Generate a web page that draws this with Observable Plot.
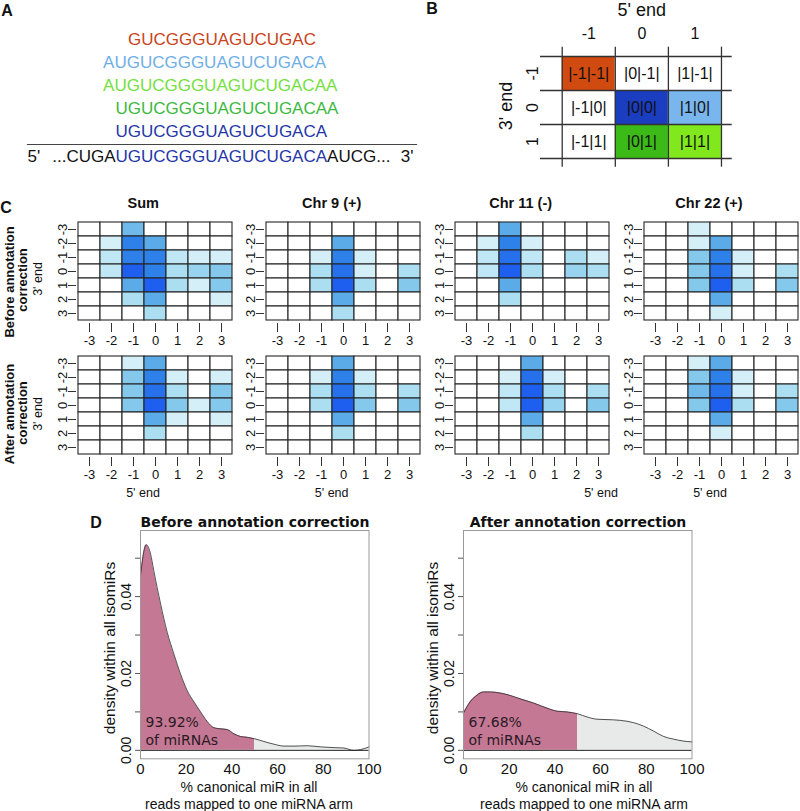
<!DOCTYPE html>
<html><head><meta charset="utf-8">
<script src="https://cdn.jsdelivr.net/npm/d3@7"></script>
<script src="https://cdn.jsdelivr.net/npm/@observablehq/plot@0.6"></script>
<style>
body{margin:0;background:#fff;}
#root{position:relative;width:800px;height:811px;overflow:hidden;font-family:"Liberation Sans",Arial,sans-serif;color:#111;background:#fff;}
.lab{position:absolute;transform:translate(-50%,-50%);white-space:pre;text-align:center;}
.rot{position:absolute;transform:translate(-50%,-50%) rotate(-90deg);white-space:pre;text-align:center;}
</style></head><body><div id="root"></div>
<script>
// ---------- DATA ----------
// Panel A: isomiR sequences and their start offset relative to the canonical miRNA
const isoSeqs = ["GUCGGGUAGUCUGAC","AUGUCGGGUAGUCUGACA","AUGUCGGGUAGUCUGACAA","UGUCGGGUAGUCUGACAA","UGUCGGGUAGUCUGACA"];
const isoStart = [1,-1,-1,0,0];
const refLeft = "...CUGA";
const refCore = "UGUCGGGUAGUCUGACA";
const refRight = "AUCG...";
// Panel B: 5'/3' shift grid
const bShifts = [-1,0,1];
const bIsoCells = [[-1,-1,0],[1,0,1],[1,1,2],[0,1,3],[0,0,4]]; // [5' shift, 3' shift, isomiR index]
// Panel C: heatmap intensity levels (rows: 3' end -3..3, cols: 5' end -3..3)
const cLevels = ["-3","-2","-1","0","1","2","3"];
const cTitles = ["Sum","Chr 9 (+)","Chr 11 (-)","Chr 22 (+)"];
const sumBefore = [[0,0,3.5,0,0,0,0],[0,1,5,4,0,0,0],[0,1.5,5,5,1.5,1,1],[0,1.5,6,5,2,2.5,3],[0,0,4,6,2,1,3],[0,0,2,4,0,0,1],[0,0,0,2,0,0,0]];
const chr9Before = [[0,0,0,0,0,0,0],[0,0,0,4,0,0,0],[0,0,1,5,1,0,0],[0,0,2,5.5,1,0,2],[0,0,2,6,2,0,3],[0,0,0,4,0,0,0],[0,0,0,2,0,0,0]];
const chr11Before = [[0,0,4,0,0,0,0],[0,1,5,1,0,0,0],[0,1.5,5.5,1.5,0,2,1],[0,1.5,6,2,0,2.5,2],[0,0,4,0,0,0,0],[0,0,2,0,0,0,0],[0,0,0,0,0,0,0]];
const chr22Before = [[0,0,1,0,0,0,0],[0,0,1,4,0,0,0],[0,0,3,5,1,0,0],[0,0,3,5.5,1,0,2],[0,0,3,6,2,0,3],[0,0,0,4,0,0,0],[0,0,0,1,0,0,0]];
const sumAfter = [[0,0,1,4,0,0,0],[0,0,3,5,1,0,1],[0,0,3,5.5,2,0,3],[0,0,3,6,3,1,3],[0,0,0,4,1,0,1],[0,0,0,2,0,0,0],[0,0,0,0,0,0,0]];
const chr9After = [[0,0,0,4,0,0,0],[0,0,1,5,1,0,0],[0,0,2,5.5,2,0,2],[0,0,2,6,3,0,3],[0,0,0,4,0,0,0],[0,0,0,2,0,0,0],[0,0,0,0,0,0,0]];
const chr11After = [[0,0,0,4,0,0,0],[0,0,1,5.5,1,0,0],[0,0,1.5,6,2,0,2],[0,0,1.5,6,2.5,0,3],[0,0,0,4,0,0,0],[0,0,0,2,0,0,0],[0,0,0,0,0,0,0]];
const chr22After = [[0,0,1,4,0,0,0],[0,0,3,5,1,0,0],[0,0,3.5,5.5,1,0,2],[0,0,3,6,2,0,3],[0,0,0,4,0,0,0],[0,0,0,1,0,0,0],[0,0,0,0,0,0,0]];
// Panel D: density curves
const beforeX = [0,2.5,4.4,5.8,8.8,11.7,14.6,17.5,20.4,23.4,26.3,29.2,32.1,35,38,40.9,43.8,46.7,50,54,58.4,62.8,67.2,73,78.8,84.7,89,93.4,96.4,100];
const beforeY = [0.0455,0.0535,0.0511,0.0468,0.0381,0.0307,0.0251,0.0199,0.0156,0.0126,0.0100,0.0075,0.0059,0.0056,0.0054,0.0043,0.0036,0.0034,0.0030,0.0023,0.0016,0.0011,0.0011,0.0012,0.0009,0.0007,0.0006,0.0000,0.0002,0.0009];
const afterX = [0,2.9,5.8,8.8,11.7,16.1,20.4,24.8,30.7,36.5,40.9,45.3,50,54,58.4,62.8,68.6,74.5,78.8,83.2,87.6,92,96.4,100];
const afterY = [0.0097,0.0126,0.0143,0.0152,0.0152,0.0149,0.0143,0.0134,0.0123,0.0110,0.0102,0.0100,0.0095,0.0087,0.0081,0.0080,0.0078,0.0072,0.0063,0.0050,0.0036,0.0029,0.0024,0.0022];
const dCut = 50;
const dAnnot = ["93.92%\nof miRNAs","67.68%\nof miRNAs"];
const dXTicks = [0,20,40,60,80,100];
const dYTicks = [0,0.01,0.02,0.03,0.04,0.05];
const dYLabeled = [0,0.02,0.04];

// ---------- STYLES ----------
const isoTextColors = ["#c9431c","#6eaee6","#74e03e","#3cb83e","#2436a8"];
const isoFillColors = ["#d14a10","#1b3dc0","#7ab6ee","#3cba18","#80e81c"];
const bFillByIso = [isoFillColors[0], isoFillColors[2], isoFillColors[4], isoFillColors[3], isoFillColors[1]];
const heatPalette = ["#ffffff","#d4eff8","#acdef2","#84c8ec","#5aabe8","#2e81e8","#1e5ff0"];
const SANS = "Liberation Sans, Arial, sans-serif";
const DEJA = "DejaVu Sans, Verdana, sans-serif";
const baseStyle = {background:"transparent", overflow:"visible", fontFamily:SANS, color:"#111"};

const root = document.getElementById("root");
function place(el, left, top){ el.style.position="absolute"; el.style.left=left+"px"; el.style.top=top+"px"; root.appendChild(el); }
function label(text, x, y, font, opts={}){
  const d=document.createElement("div"); d.className=opts.rot?"rot":"lab";
  d.style.left=x+"px"; d.style.top=y+"px"; d.style.font=font; if(opts.color) d.style.color=opts.color;
  if(opts.lh) d.style.lineHeight=opts.lh; d.textContent=text; root.appendChild(d);
}

// ---------- PANEL A ----------
const seqData = isoSeqs.map((s,i)=>({seq:s,start:isoStart[i],row:i,color:isoTextColors[i]}));
const refData = [
  {seg:refLeft, at:0, anchor:"end", color:"#111"},
  {seg:refCore, at:0, anchor:"start", color:isoTextColors[4]},
  {seg:refRight, at:refCore.length, anchor:"start", color:"#111"}
];
const panelA = Plot.plot({
  width:420, height:180, marginLeft:27, marginRight:4, marginTop:25, marginBottom:36,
  style:baseStyle,
  x:{type:"linear", domain:[-7.07,24.18], axis:null, label:null},
  y:{type:"point", domain:[0,1,2,3,4], padding:0.5, axis:null, label:null},
  color:{type:"identity"},
  marks:[
    Plot.text(seqData,{x:"start", y:"row", text:"seq", fill:"color", textAnchor:"start", fontSize:17}),
    Plot.frame({anchor:"bottom", stroke:"#444", strokeWidth:1.2}),
    Plot.text(refData.filter(d=>d.anchor==="end"),{x:"at", frameAnchor:"bottom", dy:17, text:"seg", fill:"color", textAnchor:"end", fontSize:17}),
    Plot.text(refData.filter(d=>d.anchor==="start"),{x:"at", frameAnchor:"bottom", dy:17, text:"seg", fill:"color", textAnchor:"start", fontSize:17}),
    Plot.text(["5'"],{frameAnchor:"bottom-left", dy:17, textAnchor:"start", fontSize:17, fill:"#111"}),
    Plot.text(["3'"],{frameAnchor:"bottom-right", dy:17, dx:-3, textAnchor:"end", fontSize:17, fill:"#111"})
  ]
});
place(panelA,0,0);

// ---------- PANEL B ----------
const bCells = [];
for (const y of bShifts) for (const x of bShifts) {
  const iso = bIsoCells.find(c=>c[0]===x && c[1]===y);
  bCells.push({x, y, label:`|${x}|${y}|`, fill: iso ? bFillByIso[iso[2]] : "#ffffff"});
}
const bBounds = bShifts.map(s=>s-0.5).concat([bShifts[bShifts.length-1]+0.5]);
const panelB = Plot.plot({
  width:380, height:180, marginLeft:120, marginRight:68.3, marginTop:46.7, marginBottom:13.3,
  style:baseStyle,
  x:{type:"linear", domain:[-1.909,1.702], label:null},
  y:{type:"linear", domain:[-1.774,1.756], reverse:true, label:null},
  color:{type:"identity"},
  marks:[
    Plot.rect(bCells,{x1:d=>d.x-0.5, x2:d=>d.x+0.5, y1:d=>d.y-0.5, y2:d=>d.y+0.5, fill:"fill"}),
    Plot.gridX(bBounds,{stroke:"#333", strokeOpacity:1, strokeWidth:1.3}),
    Plot.gridY(bBounds,{stroke:"#333", strokeOpacity:1, strokeWidth:1.3}),
    Plot.text(bCells,{x:"x", y:"y", text:"label", fontSize:16, fill:"#111"}),
    Plot.axisX(bShifts,{anchor:"top", tickSize:0, tickPadding:8, fontSize:16, tickFormat:d=>String(d)}),
    Plot.axisY(bShifts,{anchor:"left", tickSize:0, tickPadding:2.5, tickRotate:-90, fontSize:16, tickFormat:d=>String(d)})
  ]
});
place(panelB,420,0);

// ---------- PANEL C ----------
function heatCells(m){ const out=[]; m.forEach((row,i)=>row.forEach((v,j)=>out.push({x:cLevels[j], y:cLevels[i], v}))); return out; }
function heatmap(m){
  return Plot.plot({
    width:189, height:134, marginLeft:30, marginRight:2, marginTop:1, marginBottom:29,
    style:baseStyle,
    x:{type:"band", domain:cLevels, padding:0, label:null},
    y:{type:"band", domain:cLevels, padding:0, label:null},
    color:{type:"linear", domain:[0,1,2,3,4,5,6], range:heatPalette},
    marks:[
      Plot.cell(heatCells(m),{x:"x", y:"y", fill:"v", stroke:"#262626", strokeWidth:1.1, inset:0}),
      Plot.axisX({tickSize:9, tickPadding:3.5, fontSize:13, stroke:"#333"}),
      Plot.axisY({tickSize:8, tickPadding:2, tickRotate:-90, fontSize:13, stroke:"#333"})
    ]
  });
}
const cLefts = [75.5,264,452.7,641.7];
const cTops = [219,352.7];
[[sumBefore,chr9Before,chr11Before,chr22Before],[sumAfter,chr9After,chr11After,chr22After]].forEach((rowMs,r)=>{
  rowMs.forEach((m,c)=>place(heatmap(m), cLefts[c]-30, cTops[r]-1));
});

// ---------- PANEL D ----------
function densityPlot(xs, ys, annot){
  const data = xs.map((x,i)=>({x, y:ys[i]}));
  return Plot.plot({
    width:290, height:296, marginLeft:40, marginTop:15, marginRight:21.5, marginBottom:52.7,
    style:baseStyle,
    x:{type:"linear", domain:[0,100], label:null},
    y:{type:"linear", domain:[-0.0022,0.0572], label:null},
    marks:[
      Plot.areaY(data.filter(d=>d.x<=dCut),{x:"x", y:"y", fill:"#c47894", curve:"monotone-x"}),
      Plot.areaY(data.filter(d=>d.x>=dCut),{x:"x", y:"y", fill:"#e8eaea", curve:"monotone-x"}),
      Plot.lineY(data,{x:"x", y:"y", stroke:"#2a2a2a", strokeWidth:0.8, curve:"monotone-x"}),
      Plot.ruleY([0],{stroke:"#222", strokeWidth:1}),
      Plot.ruleX(data.slice(0,1),{x:"x", y1:0, y2:"y", stroke:"#222", strokeWidth:1}),
      Plot.frame({stroke:"#9a9a9a", strokeWidth:1}),
      Plot.text([annot],{frameAnchor:"bottom-left", dx:5, dy:-14.3, textAnchor:"start", lineAnchor:"bottom", lineHeight:1.24, fontSize:14, fontFamily:DEJA, fill:"#2a1a24"}),
      Plot.axisY(dYTicks,{tickSize:5, tickPadding:5, tickRotate:-90, fontSize:14, stroke:"#555", tickFormat:d=>dYLabeled.includes(d)?d.toFixed(2):""}),
      Plot.axisX(dXTicks,{tickSize:0, tickPadding:4.6, fontSize:15, tickFormat:d=>String(d)})
    ]
  });
}
place(densityPlot(beforeX,beforeY,dAnnot[0]),100,515);
place(densityPlot(afterX,afterY,dAnnot[1]),423.3,515);

// ---------- TEXT LABELS ----------
const B16 = `bold 16px ${SANS}`;
label("A",7,11,B16); label("B",432,9,B16); label("C",6,208,B16); label("D",96,523,B16);
label("5' end",641.7,9.5,`18px ${SANS}`);
label("3' end",506,106,`18px ${SANS}`,{rot:true});
const titleX = [143.3,331.7,520.7,709];
cTitles.forEach((t,i)=>label(t,titleX[i],203,`bold 14.5px ${SANS}`));
label("Before annotation",9,281.5,`bold 13px ${SANS}`,{rot:true});
label("correction",22,280,`bold 13px ${SANS}`,{rot:true});
label("3' end",38,278.5,`12.5px ${SANS}`,{rot:true});
label("After annotation",9,414,`bold 13px ${SANS}`,{rot:true});
label("correction",22,412.5,`bold 13px ${SANS}`,{rot:true});
label("3' end",38,414,`12.5px ${SANS}`,{rot:true});
[143,331.7,601,710].forEach(x=>label("5' end",x,493,`12.5px ${SANS}`));
label("Before annotation correction",255,522,`bold 14px ${DEJA}`);
label("After annotation correction",578,522,`bold 14px ${DEJA}`);
label("density within all isomiRs",110,648,`15.5px ${SANS}`,{rot:true});
label("density within all isomiRs",433,648,`15.5px ${SANS}`,{rot:true});
label("% canonical miR in all\nreads mapped to one miRNA arm",249,795,`14px ${SANS}`,{lh:"16.5px"});
label("% canonical miR in all\nreads mapped to one miRNA arm",584,795,`14px ${SANS}`,{lh:"16.5px"});
</script></body></html>
